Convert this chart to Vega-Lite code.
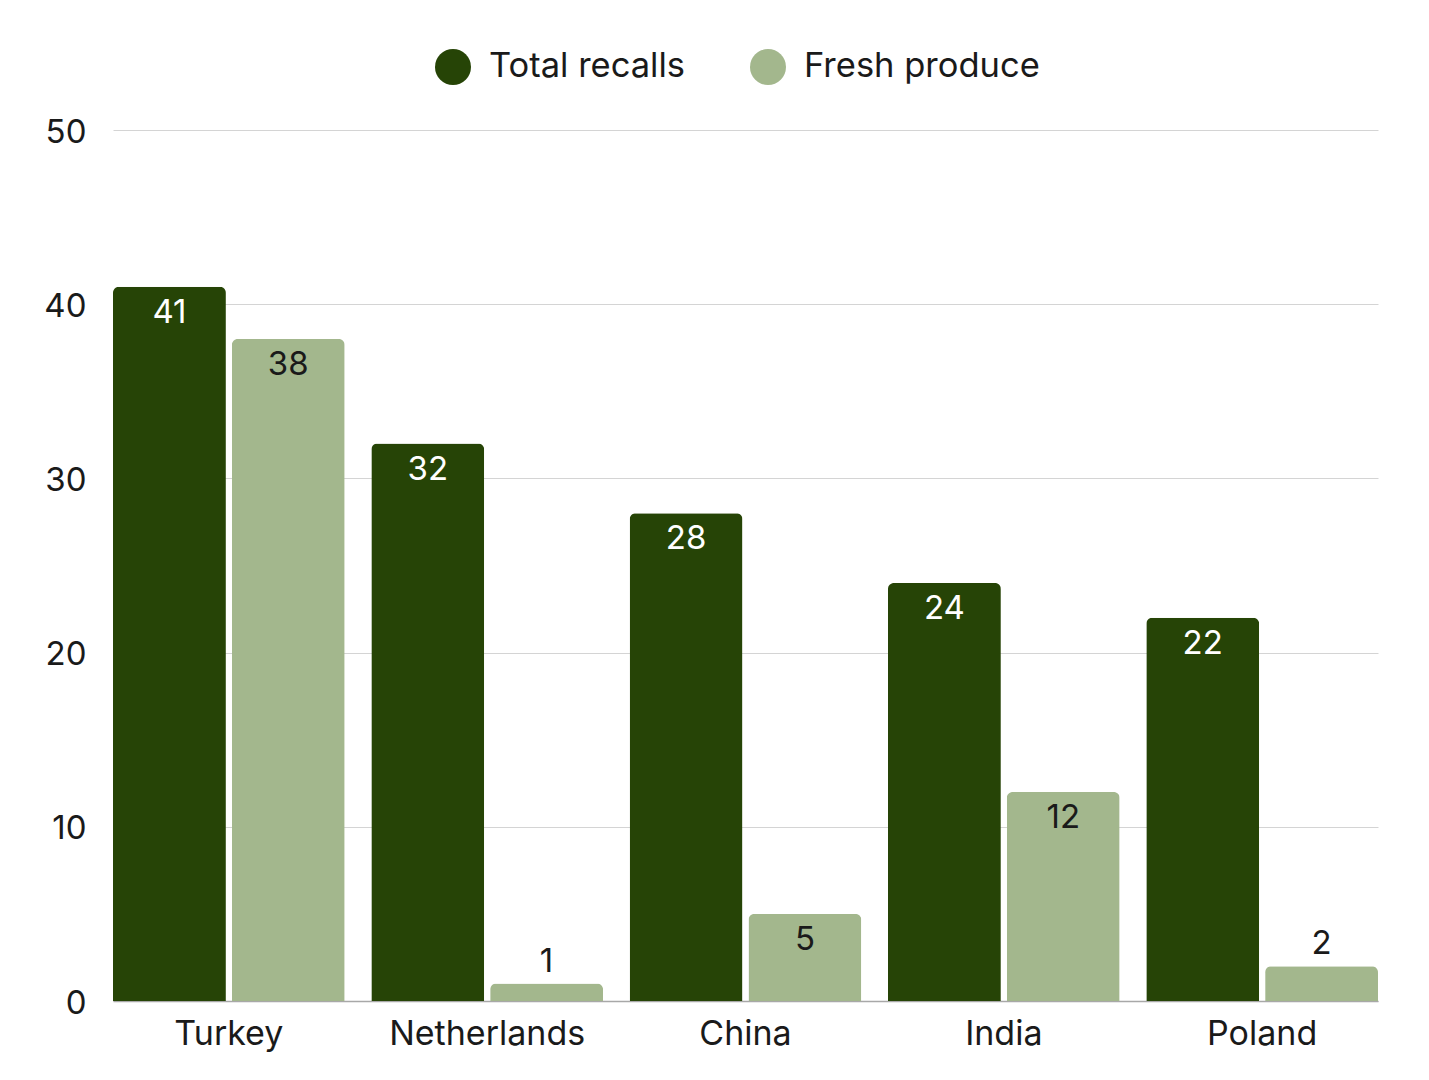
{
  "$schema": "https://vega.github.io/schema/vega-lite/v6.json",
  "width": 1265,
  "height": 871,
  "autosize": {"type": "none"},
  "padding": {"left": 113, "top": 130, "right": 51, "bottom": 79},
  "background": "white",
  "config": {
    "font": "Inter",
    "view": {"stroke": null},
    "axis": {"labelFont": "Inter", "labelColor": "#1a1a1a", "ticks": false, "title": null}
  },
  "data": {
    "values": [
      {"country": "Turkey", "series": "Total recalls", "value": 41},
      {"country": "Turkey", "series": "Fresh produce", "value": 38},
      {"country": "Netherlands", "series": "Total recalls", "value": 32},
      {"country": "Netherlands", "series": "Fresh produce", "value": 1},
      {"country": "China", "series": "Total recalls", "value": 28},
      {"country": "China", "series": "Fresh produce", "value": 5},
      {"country": "India", "series": "Total recalls", "value": 24},
      {"country": "India", "series": "Fresh produce", "value": 12},
      {"country": "Poland", "series": "Total recalls", "value": 22},
      {"country": "Poland", "series": "Fresh produce", "value": 2}
    ]
  },
  "encoding": {
    "x": {
      "field": "country", "type": "nominal", "sort": null,
      "scale": {"paddingInner": 0.103, "paddingOuter": 0},
      "axis": {"labelAngle": 0, "labelFontSize": 34, "labelLimit": 400, "labelPadding": 16, "domain": true, "domainColor": "#a8a8a8", "domainWidth": 1.5, "grid": false}
    },
    "xOffset": {
      "field": "series", "type": "nominal", "sort": ["Total recalls", "Fresh produce"],
      "scale": {"paddingInner": 0.05, "paddingOuter": 0}
    },
    "y": {
      "field": "value", "type": "quantitative",
      "scale": {"domain": [0, 50]},
      "axis": {"values": [0, 10, 20, 30, 40, 50], "labelFontSize": 33, "labelPadding": 27, "labelOffset": 2, "domain": false, "grid": true, "gridColor": "#d4d4d4", "gridWidth": 1}
    }
  },
  "layer": [
    {
      "mark": {"type": "bar", "cornerRadiusTopLeft": 6, "cornerRadiusTopRight": 6},
      "encoding": {
        "color": {
          "field": "series", "type": "nominal", "sort": ["Total recalls", "Fresh produce"],
          "scale": {"domain": ["Total recalls", "Fresh produce"], "range": ["#264406", "#a3b78d"]},
          "legend": {
            "title": null, "orient": "none", "direction": "horizontal",
            "legendX": 322, "legendY": -81, "padding": 0,
            "symbolType": "circle", "symbolSize": 1296, "symbolStrokeWidth": 0,
            "labelFont": "Inter", "labelFontSize": 34.5, "labelColor": "#1a1a1a",
            "labelOffset": 18, "columnPadding": 64, "labelLimit": 400
          }
        }
      }
    },
    {
      "transform": [{"filter": "datum.series === 'Total recalls'"}],
      "mark": {"type": "text", "baseline": "middle", "dy": 26, "fontSize": 33, "color": "white"},
      "encoding": {"text": {"field": "value", "type": "quantitative"}}
    },
    {
      "transform": [{"filter": "datum.series === 'Fresh produce' && datum.value >= 5"}],
      "mark": {"type": "text", "baseline": "middle", "dy": 26, "fontSize": 33, "color": "#1a1a1a"},
      "encoding": {"text": {"field": "value", "type": "quantitative"}}
    },
    {
      "transform": [{"filter": "datum.series === 'Fresh produce' && datum.value < 5"}],
      "mark": {"type": "text", "baseline": "middle", "dy": -22, "fontSize": 33, "color": "#1a1a1a"},
      "encoding": {"text": {"field": "value", "type": "quantitative"}}
    }
  ]
}
